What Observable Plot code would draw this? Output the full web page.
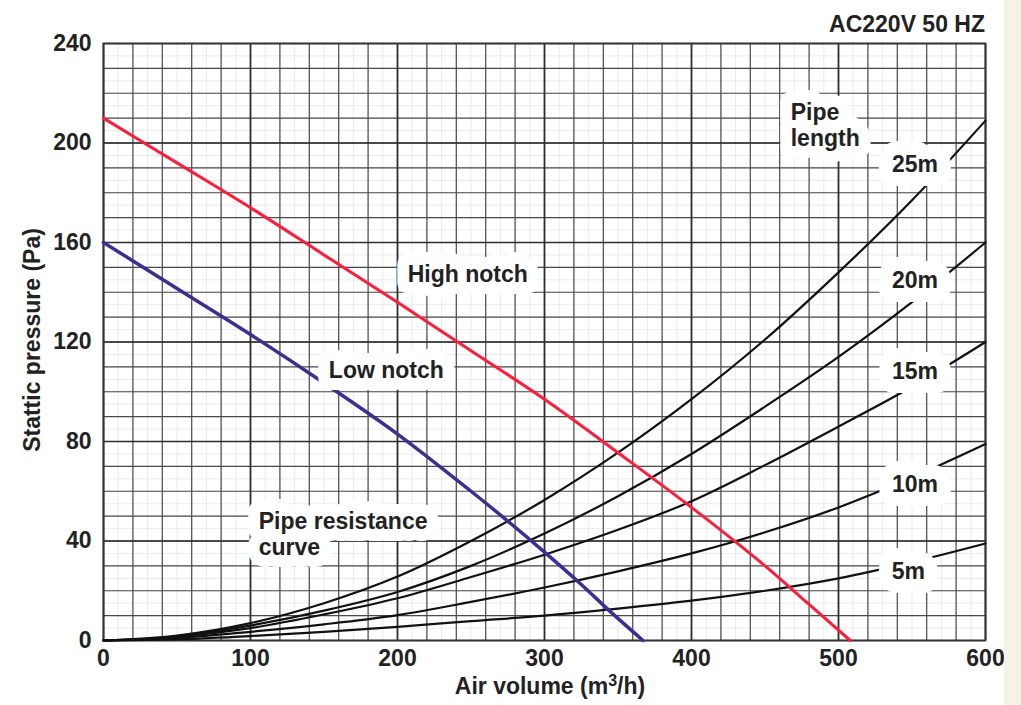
<!DOCTYPE html>
<html><head><meta charset="utf-8">
<script src="https://cdn.jsdelivr.net/npm/d3@7"></script>
<script src="https://cdn.jsdelivr.net/npm/@observablehq/plot@0.6"></script>
<style>
html,body{margin:0;padding:0;background:#fff;}
body{width:1021px;height:705px;overflow:hidden;position:relative;font-family:"Liberation Sans",Arial,sans-serif;}
#strip{position:absolute;left:1004px;top:0;width:17px;height:705px;background:#f6f3e4;}
</style></head><body><div id="chart"></div><div id="strip"></div>
<script>
// Pipe resistance curves (static pressure in Pa vs air volume in m3/h)
const airVolume = [0, 50, 100, 150, 200, 250, 300, 350, 400, 450, 500, 550, 600];
const pipe5m  = [0, 0.5, 1.8, 3.5, 5.5, 7.8, 10, 12.8, 16, 20, 25, 31.5, 39];
const pipe10m = [0, 1, 3.5, 6.5, 10.2, 15.5, 21.3, 27.8, 35, 43.5, 53.5, 65.5, 79];
const pipe15m = [0, 1.5, 5, 10.5, 17, 25.5, 34.5, 44.5, 56, 70.5, 86, 102, 120];
const pipe20m = [0, 1.5, 6, 12, 19.5, 30, 43, 58, 75, 94, 114, 136, 160];
const pipe25m = [0, 2, 7, 15, 25.7, 40, 56.5, 75.5, 97, 121, 148, 177, 209];
const pipeLengths = ["5m", "10m", "15m", "20m", "25m"];

// Fan curves
const highX = [0, 50, 100, 150, 200, 250, 300, 350, 400, 450, 480, 508];
const highY = [210, 192, 174, 155, 136, 116.5, 97, 75.5, 53.5, 30, 14.5, 0];
const lowX = [0, 50, 100, 150, 200, 250, 275, 300, 325, 345, 367];
const lowY = [160, 141.5, 123, 103.5, 83, 60, 48, 35.5, 22.5, 11.5, 0];

// Axis ticks
const xTicks = [0, 100, 200, 300, 400, 500, 600];
const yTicks = [0, 40, 80, 120, 160, 200, 240];

// Annotation labels
const labelText = ["Pipe\nlength", "25m", "20m", "15m", "10m", "5m", "High notch", "Low notch", "Pipe resistance\ncurve"];
const labelX = [467.5, 552, 552, 552, 552, 547.5, 247.8, 192.4, 105.6];
const labelY = [207.5, 191.6, 145, 108.5, 63.1, 28.1, 147.5, 109, 43];
const labelKind = ["block", "pipe", "pipe", "pipe", "pipe", "pipe", "fan", "fan", "block"];

const pipeSeries = [pipe5m, pipe10m, pipe15m, pipe20m, pipe25m];
const pipeData = pipeSeries.flatMap((s, i) => s.map((v, j) => ({x: airVolume[j], y: v, len: pipeLengths[i]})));
const highData = highX.map((x, i) => ({x, y: highY[i]}));
const lowData = lowX.map((x, i) => ({x, y: lowY[i]}));
const labels = labelText.map((t, i) => ({t, x: labelX[i], y: labelY[i], k: labelKind[i]}));

const minorX = d3.range(0, 601, 10);
const majorX = d3.range(0, 601, 20);
const boldX = d3.range(0, 601, 100);
const minorY = d3.range(0, 241, 5);
const majorY = d3.range(0, 241, 10);
const boldY = d3.range(0, 241, 40);

const font = "'Liberation Sans', Arial, Helvetica, sans-serif";
const base = {x: "x", y: "y", text: "t", fontSize: 23, fontWeight: "bold", lineHeight: 1.15};
const halo = {...base, fill: "white", stroke: "white", strokeLinejoin: "round"};
const ink = {...base, fill: "#222"};
const blocks = labels.filter(d => d.k === "block");
const fans = labels.filter(d => d.k === "fan");
const pipes = labels.filter(d => d.k === "pipe");

const chart = Plot.plot({
  width: 1021,
  height: 705,
  marginLeft: 103,
  marginRight: 36,
  marginTop: 43,
  marginBottom: 65,
  style: {fontFamily: font, fontSize: "23px", fontWeight: "bold", color: "#222", background: "transparent"},
  x: {domain: [0, 600]},
  y: {domain: [0, 240]},
  marks: [
    Plot.ruleX(minorX, {stroke: "#e2e2e2", strokeWidth: 0.7}),
    Plot.ruleY(minorY, {stroke: "#e2e2e2", strokeWidth: 0.7}),
    Plot.ruleX(majorX, {stroke: "#4a4a4a", strokeWidth: 1.2}),
    Plot.ruleY(majorY, {stroke: "#4a4a4a", strokeWidth: 1.2}),
    Plot.ruleX(boldX, {stroke: "#2e2e2e", strokeWidth: 1.7}),
    Plot.ruleY(boldY, {stroke: "#2e2e2e", strokeWidth: 1.7}),
    Plot.frame({stroke: "#333", strokeWidth: 1.7}),
    Plot.line(pipeData, {x: "x", y: "y", z: "len", stroke: "#111", strokeWidth: 2.2, curve: "catmull-rom"}),
    Plot.line(lowData, {x: "x", y: "y", stroke: "#3b2f92", strokeWidth: 3.5, curve: "catmull-rom"}),
    Plot.line(highData, {x: "x", y: "y", stroke: "#ff1c3a", strokeWidth: 3, curve: "catmull-rom"}),
    Plot.text(blocks, {...halo, textAnchor: "start", strokeWidth: 24}),
    Plot.text(fans, {...halo, textAnchor: "middle", strokeWidth: 24}),
    Plot.text(pipes, {...halo, textAnchor: "middle", strokeWidth: 28}),
    Plot.text(blocks, {...ink, textAnchor: "start"}),
    Plot.text(fans, {...ink, textAnchor: "middle"}),
    Plot.text(pipes, {...ink, textAnchor: "middle"}),
    Plot.axisX({ticks: xTicks, tickSize: 0, tickPadding: 9, label: null, fontSize: 23}),
    Plot.axisY({ticks: yTicks, tickSize: 0, tickPadding: 12, label: null, fontSize: 23})
  ]
});

document.getElementById("chart").appendChild(chart);
const svg = d3.select(chart);
svg.style("overflow", "visible");

svg.append("text")
  .attr("x", 985).attr("y", 32)
  .attr("text-anchor", "end")
  .attr("font-family", font).attr("font-size", 23).attr("font-weight", "bold").attr("fill", "#222")
  .text("AC220V 50 HZ");

const xt = svg.append("text")
  .attr("x", 550).attr("y", 694)
  .attr("text-anchor", "middle")
  .attr("font-family", font).attr("font-size", 23).attr("font-weight", "bold").attr("fill", "#222");
xt.append("tspan").text("Air volume (m");
xt.append("tspan").attr("font-size", 16).attr("dy", -8).text("3");
xt.append("tspan").attr("dy", 8).text("/h)");

svg.append("text")
  .attr("transform", "translate(40,340) rotate(-90)")
  .attr("text-anchor", "middle")
  .attr("font-family", font).attr("font-size", 23).attr("font-weight", "bold").attr("fill", "#222")
  .text("Stattic pressure (Pa)");
</script>
</body></html>
